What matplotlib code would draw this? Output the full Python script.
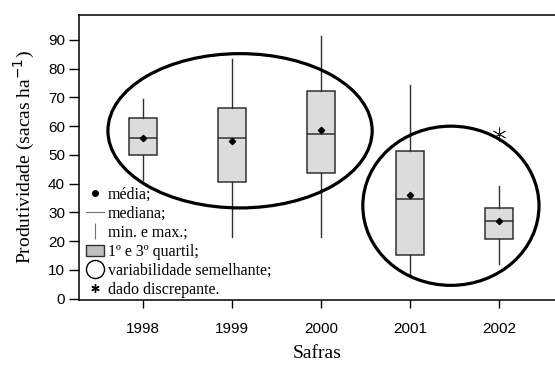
import matplotlib
matplotlib.use("Agg")
import matplotlib.pyplot as plt
from matplotlib.patches import Ellipse, Patch
from matplotlib.lines import Line2D

# ---- data ----
safras = [1998, 1999, 2000, 2001, 2002]
whis_lo = [41.4, 21.3, 21.3, 7.4, 11.9]
q1 = [49.8, 40.4, 43.7, 15.2, 20.8]
medians = [56.0, 56.0, 57.2, 34.7, 26.9]
q3 = [62.7, 66.5, 72.2, 51.5, 31.6]
whis_hi = [69.4, 83.3, 91.4, 74.5, 39.2]
means = [56.0, 54.9, 58.8, 35.9, 27.0]
outliers = [[], [], [], [], [57.2]]
yticks = [0, 10, 20, 30, 40, 50, 60, 70, 80, 90]

# groups of similar variability (center x, center y, width, height)
groups = [(1999.09, 58.4, 2.97, 53.7), (2001.46, 32.3, 1.98, 55.4)]

legend_labels = ["média;", "mediana;", "min. e max.;", "1º e 3º quartil;",
                 "variabilidade semelhante;", "dado discrepante."]

serif = ["Liberation Serif", "DejaVu Serif"]
sans = ["Liberation Sans", "DejaVu Sans"]

fig = plt.figure(figsize=(5.55, 3.65), dpi=100)
ax = fig.add_axes([79/555, 65/365, 476/555, 285/365])

stats = []
for i in range(len(safras)):
    stats.append(dict(med=medians[i], q1=q1[i], q3=q3[i], whislo=whis_lo[i],
                      whishi=whis_hi[i], mean=means[i], fliers=outliers[i]))

ax.bxp(stats, positions=safras, widths=0.31, showmeans=True, showcaps=False,
       patch_artist=True,
       boxprops=dict(facecolor="#dcdcdc", edgecolor="#303030", linewidth=1.1),
       medianprops=dict(color="#303030", linewidth=1.1),
       whiskerprops=dict(color="#303030", linewidth=1.0),
       meanprops=dict(marker="D", markerfacecolor="black", markeredgecolor="black",
                      markersize=3.2),
       flierprops=dict(marker=(6, 2, 0), markersize=10, markeredgecolor="#202020",
                       markeredgewidth=0.6, linestyle="none"))

for (cx, cy, w, h) in groups:
    ax.add_patch(Ellipse((cx, cy), w, h, fill=False, edgecolor="black", linewidth=2.3,
                         zorder=5))

ax.set_xlim(1997.28, 2002.63)
ax.set_ylim(-0.5, 98.7)
ax.set_xticks(safras)
ax.set_xticklabels([str(s) for s in safras], family=sans, fontsize=11)
ax.set_yticks(yticks)
ax.set_yticklabels([str(v) for v in yticks], family=sans, fontsize=11)
ax.tick_params(axis="y", length=7, width=1, pad=3)
ax.tick_params(axis="x", length=6, width=1, pad=10)
for s in ["left", "bottom", "top"]:
    ax.spines[s].set_linewidth(1.1)
ax.spines["right"].set_visible(False)

ax.set_ylabel("Produtividade (sacas ha$^{-1}$)", family=serif, fontsize=14, labelpad=8)
ax.set_xlabel("Safras", family=serif, fontsize=14, labelpad=6)

handles = [
    Line2D([], [], marker="o", color="black", markersize=4, linestyle="none"),
    Line2D([], [], color="#707070", linewidth=0.8),
    Line2D([], [], marker="|", color="#707070", markersize=11, markeredgewidth=0.8,
           linestyle="none"),
    Patch(facecolor="#c0c0c0", edgecolor="#303030", linewidth=1.0),
    Line2D([], [], marker="o", markerfacecolor="white", markeredgecolor="black",
           markersize=13, markeredgewidth=1.0, linestyle="none"),
    Line2D([], [], marker=(6, 2, 0), color="black", markersize=6, markeredgewidth=1.0,
           linestyle="none"),
]
leg = ax.legend(handles, legend_labels, loc="lower left", bbox_to_anchor=(-0.008, -0.032),
                frameon=False, prop=dict(family=serif, size=11.5), handlelength=1.1,
                handletextpad=0.25, labelspacing=0.19, borderpad=0.2)
leg.set_zorder(6)

fig.savefig("out.png", dpi=100)
